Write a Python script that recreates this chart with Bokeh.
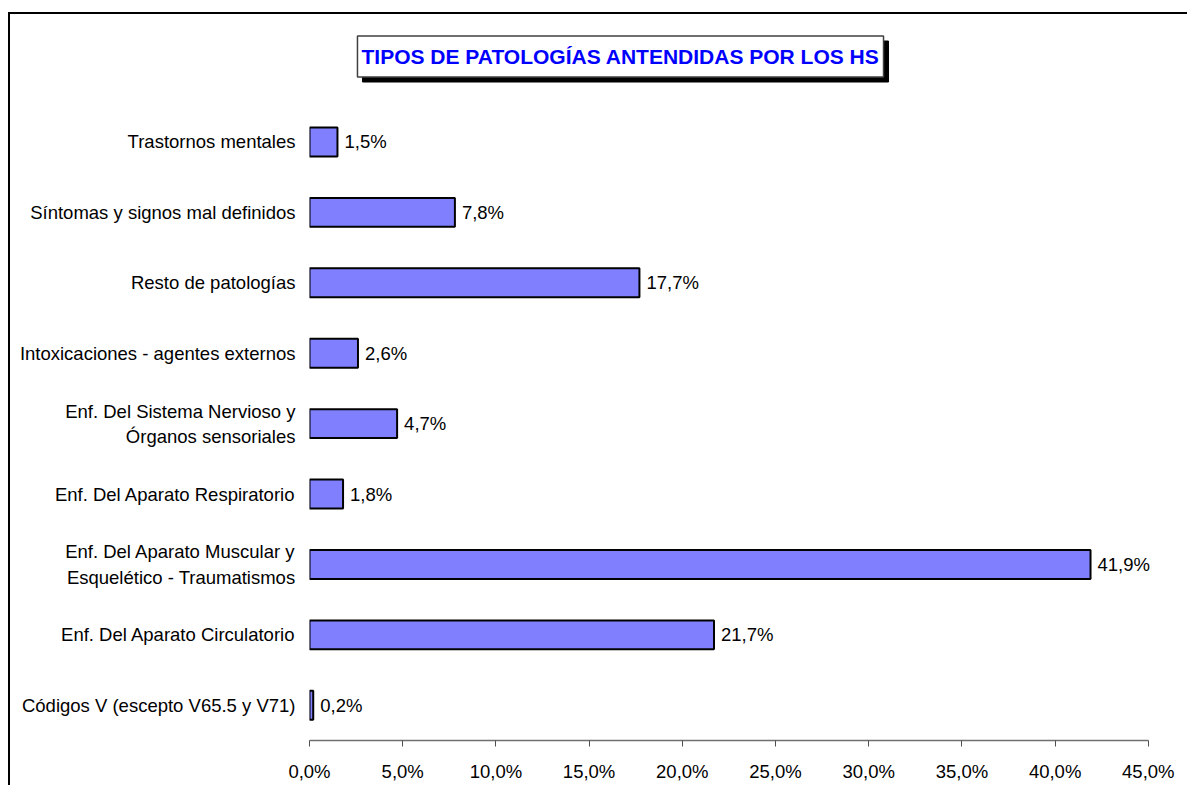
from bokeh.plotting import figure
from bokeh.models import (Range1d, FixedTicker, Label, ColumnDataSource)
from bokeh.core.properties import value
from bokeh.embed import file_html
from bokeh.resources import INLINE

# Data (bottom to top)
categories = [
    "Códigos V (escepto V65.5 y V71)",
    "Enf. Del Aparato Circulatorio",
    "Enf. Del Aparato Muscular y\nEsquelético - Traumatismos",
    "Enf. Del Aparato Respiratorio",
    "Enf. Del Sistema Nervioso y\nÓrganos sensoriales",
    "Intoxicaciones - agentes externos",
    "Resto de patologías",
    "Síntomas y signos mal definidos",
    "Trastornos mentales",
]
values = [0.2, 21.7, 41.9, 1.8, 4.7, 2.6, 17.7, 7.8, 1.5]
value_labels = [f"{v:.1f}%".replace(".", ",") for v in values]
x_ticks = [0, 5, 10, 15, 20, 25, 30, 35, 40, 45]
x_tick_labels = [f"{t:.1f}%".replace(".", ",") for t in x_ticks]
title_text = "TIPOS DE PATOLOGÍAS ANTENDIDAS POR LOS HS"

FONT = "Liberation Sans"
FS = "18.5px"

pos = list(range(len(categories)))
src = ColumnDataSource(dict(pos=pos, val=values, lab=value_labels))

p = figure(width=1179, height=773, output_backend="svg", toolbar_location=None,
           x_range=Range1d(0, 47.21), y_range=Range1d(-0.5, 9.81),
           min_border_left=299, min_border_right=0, min_border_top=0, min_border_bottom=47,
           margin=(12, 0, 0, 8),
           styles={"border-top": "2px solid black", "border-left": "2px solid black"})
p.outline_line_color = None
p.grid.grid_line_color = None
p.background_fill_color = "white"
p.border_fill_color = "white"

p.hbar(y="pos", right="val", left=0, height=0.41, source=src,
       fill_color="#8080FF", line_color="black", line_width=2)
p.text(x="val", y="pos", text="lab", source=src, x_offset=7,
       text_font=value(FONT), text_font_size=FS, text_baseline="middle",
       text_align="left", text_color="black")

# x axis
xa = p.xaxis[0]
xa.ticker = FixedTicker(ticks=x_ticks)
xa.bounds = (0, 45)
xa.major_label_overrides = {t: l for t, l in zip(x_ticks, x_tick_labels)}
xa.axis_line_color = "#707070"
xa.axis_line_width = 1.5
xa.major_tick_line_color = "#505050"
xa.major_tick_out = 6
xa.major_tick_in = 0
xa.minor_tick_line_color = None
xa.major_label_text_font = FONT
xa.major_label_text_font_size = FS
xa.major_label_text_color = "black"
xa.major_label_standoff = 14

# y axis (category axis)
ya = p.yaxis[0]
ya.ticker = FixedTicker(ticks=pos)
ya.major_label_overrides = {i: c for i, c in zip(pos, categories)}
ya.axis_line_color = None
ya.major_tick_line_color = None
ya.minor_tick_line_color = None
ya.major_tick_out = 0
ya.major_label_standoff = 14
ya.major_label_text_font = FONT
ya.major_label_text_font_size = FS
ya.major_label_text_color = "black"

# title box with shadow
tx, ty = 311, 684
pad = dict(left=4, right=4, top=9, bottom=9)
shadow = Label(x=tx + 5, y=ty - 5, x_units="screen", y_units="screen", text=title_text,
               text_font=FONT, text_font_size="21px", text_font_style="bold",
               text_color="black", text_align="center", text_baseline="middle",
               background_fill_color="black", border_line_color="black",
               padding=pad)
title = Label(x=tx, y=ty, x_units="screen", y_units="screen", text=title_text,
              text_font=FONT, text_font_size="21px", text_font_style="bold",
              text_color="#0000FF", text_align="center", text_baseline="middle",
              background_fill_color="white", border_line_color="#404040", border_line_width=1.5,
              padding=pad)
p.add_layout(shadow)
p.add_layout(title)

open("out.html", "w").write(file_html(p, INLINE))
